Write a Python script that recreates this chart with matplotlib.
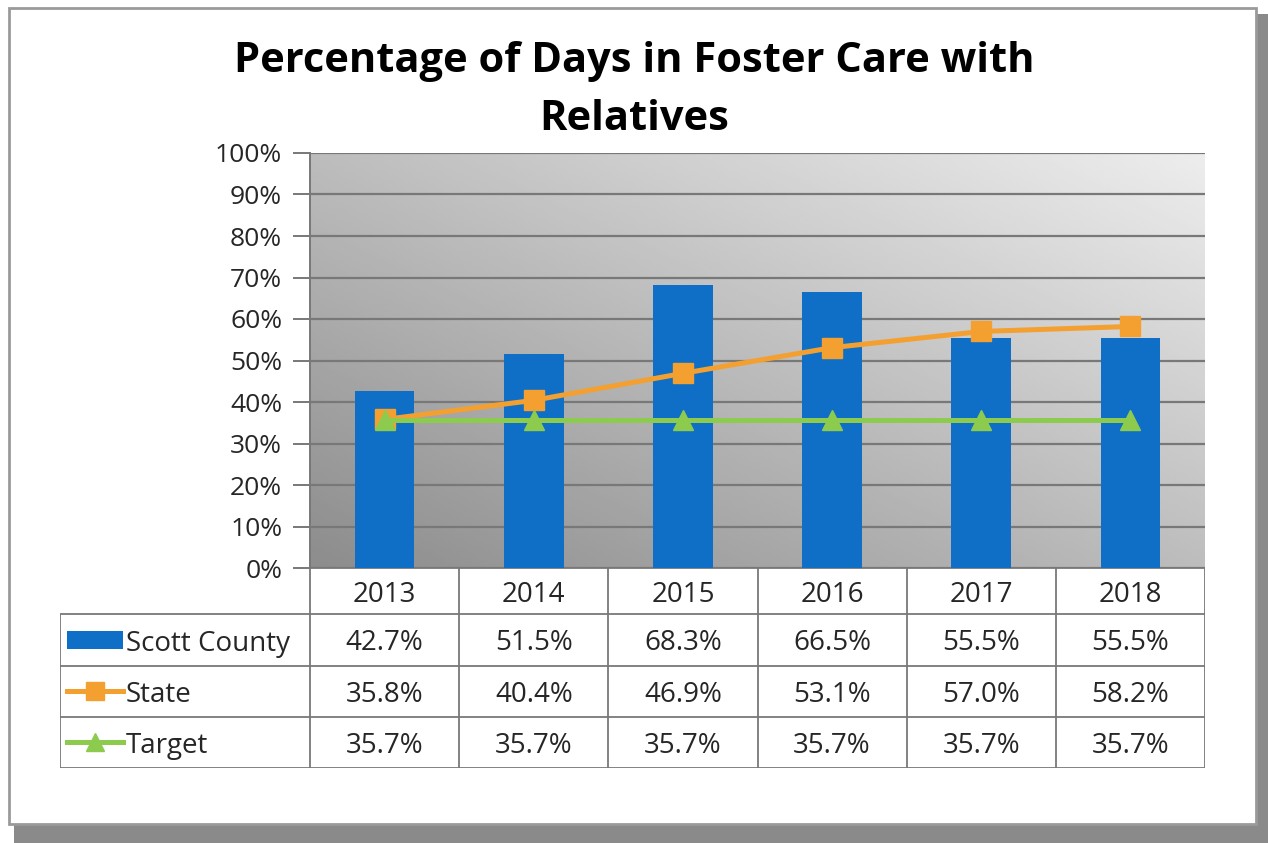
import matplotlib.pyplot as plt
import numpy as np
from matplotlib.patches import Rectangle

years = ['2013', '2014', '2015', '2016', '2017', '2018']
scott_county = [42.7, 51.5, 68.3, 66.5, 55.5, 55.5]
state = [35.8, 40.4, 46.9, 53.1, 57.0, 58.2]
target = [35.7, 35.7, 35.7, 35.7, 35.7, 35.7]
series_names = ['Scott County', 'State', 'Target']

BLUE = '#0F6FC6'
ORANGE = '#F4A030'
GREEN = '#8DCB4E'
GRID = '#787878'
TXT = '#262626'
W, H = 1268, 843


def fx(px):
    return px / W


def fy(py):
    return 1 - py / H


plt.rcParams['font.family'] = ['Open Sans', 'DejaVu Sans']
fig = plt.figure(figsize=(W / 100, H / 100), dpi=100)

# frame with shadow
fig.patches.append(Rectangle((fx(14), fy(843)), fx(1254), fy(14) - fy(843),
                             transform=fig.transFigure, facecolor='#8a8a8a',
                             edgecolor='none', zorder=0))
fig.patches.append(Rectangle((fx(9), fy(824)), fx(1247), fy(8) - fy(824),
                             transform=fig.transFigure, facecolor='white',
                             edgecolor='#9a9a9a', linewidth=2, zorder=1))

fig.text(0.5, fy(56), 'Percentage of Days in Foster Care with', ha='center', va='center_baseline',
         fontsize=30, fontweight='bold')
fig.text(0.5, fy(115), 'Relatives', ha='center', va='center_baseline',
         fontsize=30, fontweight='bold')

# main chart
left, right, top, bottom = 310, 1205, 153, 568
ax = fig.add_axes([fx(left), fy(bottom), fx(right) - fx(left), fy(top) - fy(bottom)], zorder=3)
x = np.arange(len(years))
ax.set_xlim(-0.5, len(years) - 0.5)
ax.set_ylim(0, 100)

# gradient background
g = np.linspace(0, 1, 200)
gx, gy = np.meshgrid(g, g)
grad = 0.55 + 0.38 * (0.5 * gx + 0.5 * gy)
ax.imshow(grad, extent=[0, 1, 0, 1], transform=ax.transAxes, origin='lower',
          cmap='gray', vmin=0, vmax=1, aspect='auto', zorder=0)

ax.set_yticks(np.arange(0, 101, 10))
ax.set_yticklabels([f'{v}%' for v in range(0, 101, 10)], fontsize=19, color=TXT)
ax.yaxis.grid(True, color=GRID, linewidth=1.6)
ax.set_axisbelow(True)
ax.tick_params(axis='y', length=12, width=1.4, color=GRID, pad=8)
ax.set_xticks([])
for s in ['top', 'right', 'bottom']:
    ax.spines[s].set_visible(False)
ax.spines['left'].set_color(GRID)
ax.spines['left'].set_linewidth(1.4)

ax.bar(x, scott_county, width=0.4, color=BLUE, zorder=2)
ax.plot(x, state, color=ORANGE, linewidth=3.6, marker='s', markersize=14, zorder=4)
ax.plot(x, target, color=GREEN, linewidth=3.6, marker='^', markersize=14, zorder=5)

# data table
tleft, tbottom = 60, 768
col_w = (right - left) / len(years)
lab_w = (left - tleft) / col_w
tax = fig.add_axes([fx(tleft), fy(tbottom), fx(right) - fx(tleft), fy(bottom) - fy(tbottom)], zorder=2)
tax.set_xlim(-0.5 - lab_w, len(years) - 0.5)
tax.set_ylim(4, 0)
tax.axis('off')
edges = [0, 0.92, 1.96, 2.98, 4.0]
mids = [(a + b) / 2 for a, b in zip(edges[:-1], edges[1:])]

lc = dict(color=GRID, linewidth=1.3, solid_capstyle='butt')
tax.plot([-0.5, len(years) - 0.5], [0, 0], **lc)
for e in edges[1:]:
    tax.plot([-0.5 - lab_w, len(years) - 0.5], [e, e], **lc)
for c in range(len(years) + 1):
    tax.plot([c - 0.5, c - 0.5], [0, 4], **lc)
tax.plot([-0.5 - lab_w] * 2, [edges[1], 4], **lc)

for i, yr in enumerate(years):
    tax.text(i, mids[0], yr, ha='center', va='center_baseline', fontsize=20, color=TXT)
for r, vals in enumerate([scott_county, state, target]):
    for i, v in enumerate(vals):
        tax.text(i, mids[r + 1], f'{v:.1f}%', ha='center', va='center_baseline',
                 fontsize=20, color=TXT)

key_x0 = -0.5 - lab_w + 0.05
key_x1 = key_x0 + 0.37
tax.add_patch(Rectangle((key_x0, mids[1] - 0.18), 0.37, 0.36, facecolor=BLUE, edgecolor='none'))
tax.plot([key_x0, key_x1], [mids[2]] * 2, color=ORANGE, linewidth=3.6)
tax.plot([(key_x0 + key_x1) / 2], [mids[2]], marker='s', color=ORANGE, markersize=13)
tax.plot([key_x0, key_x1], [mids[3]] * 2, color=GREEN, linewidth=3.6)
tax.plot([(key_x0 + key_x1) / 2], [mids[3]], marker='^', color=GREEN, markersize=13)
for r, name in enumerate(series_names):
    tax.text(key_x1 + 0.02, mids[r + 1], name, ha='left', va='center_baseline',
             fontsize=20, color=TXT)

fig.savefig('out.png', dpi=100)
